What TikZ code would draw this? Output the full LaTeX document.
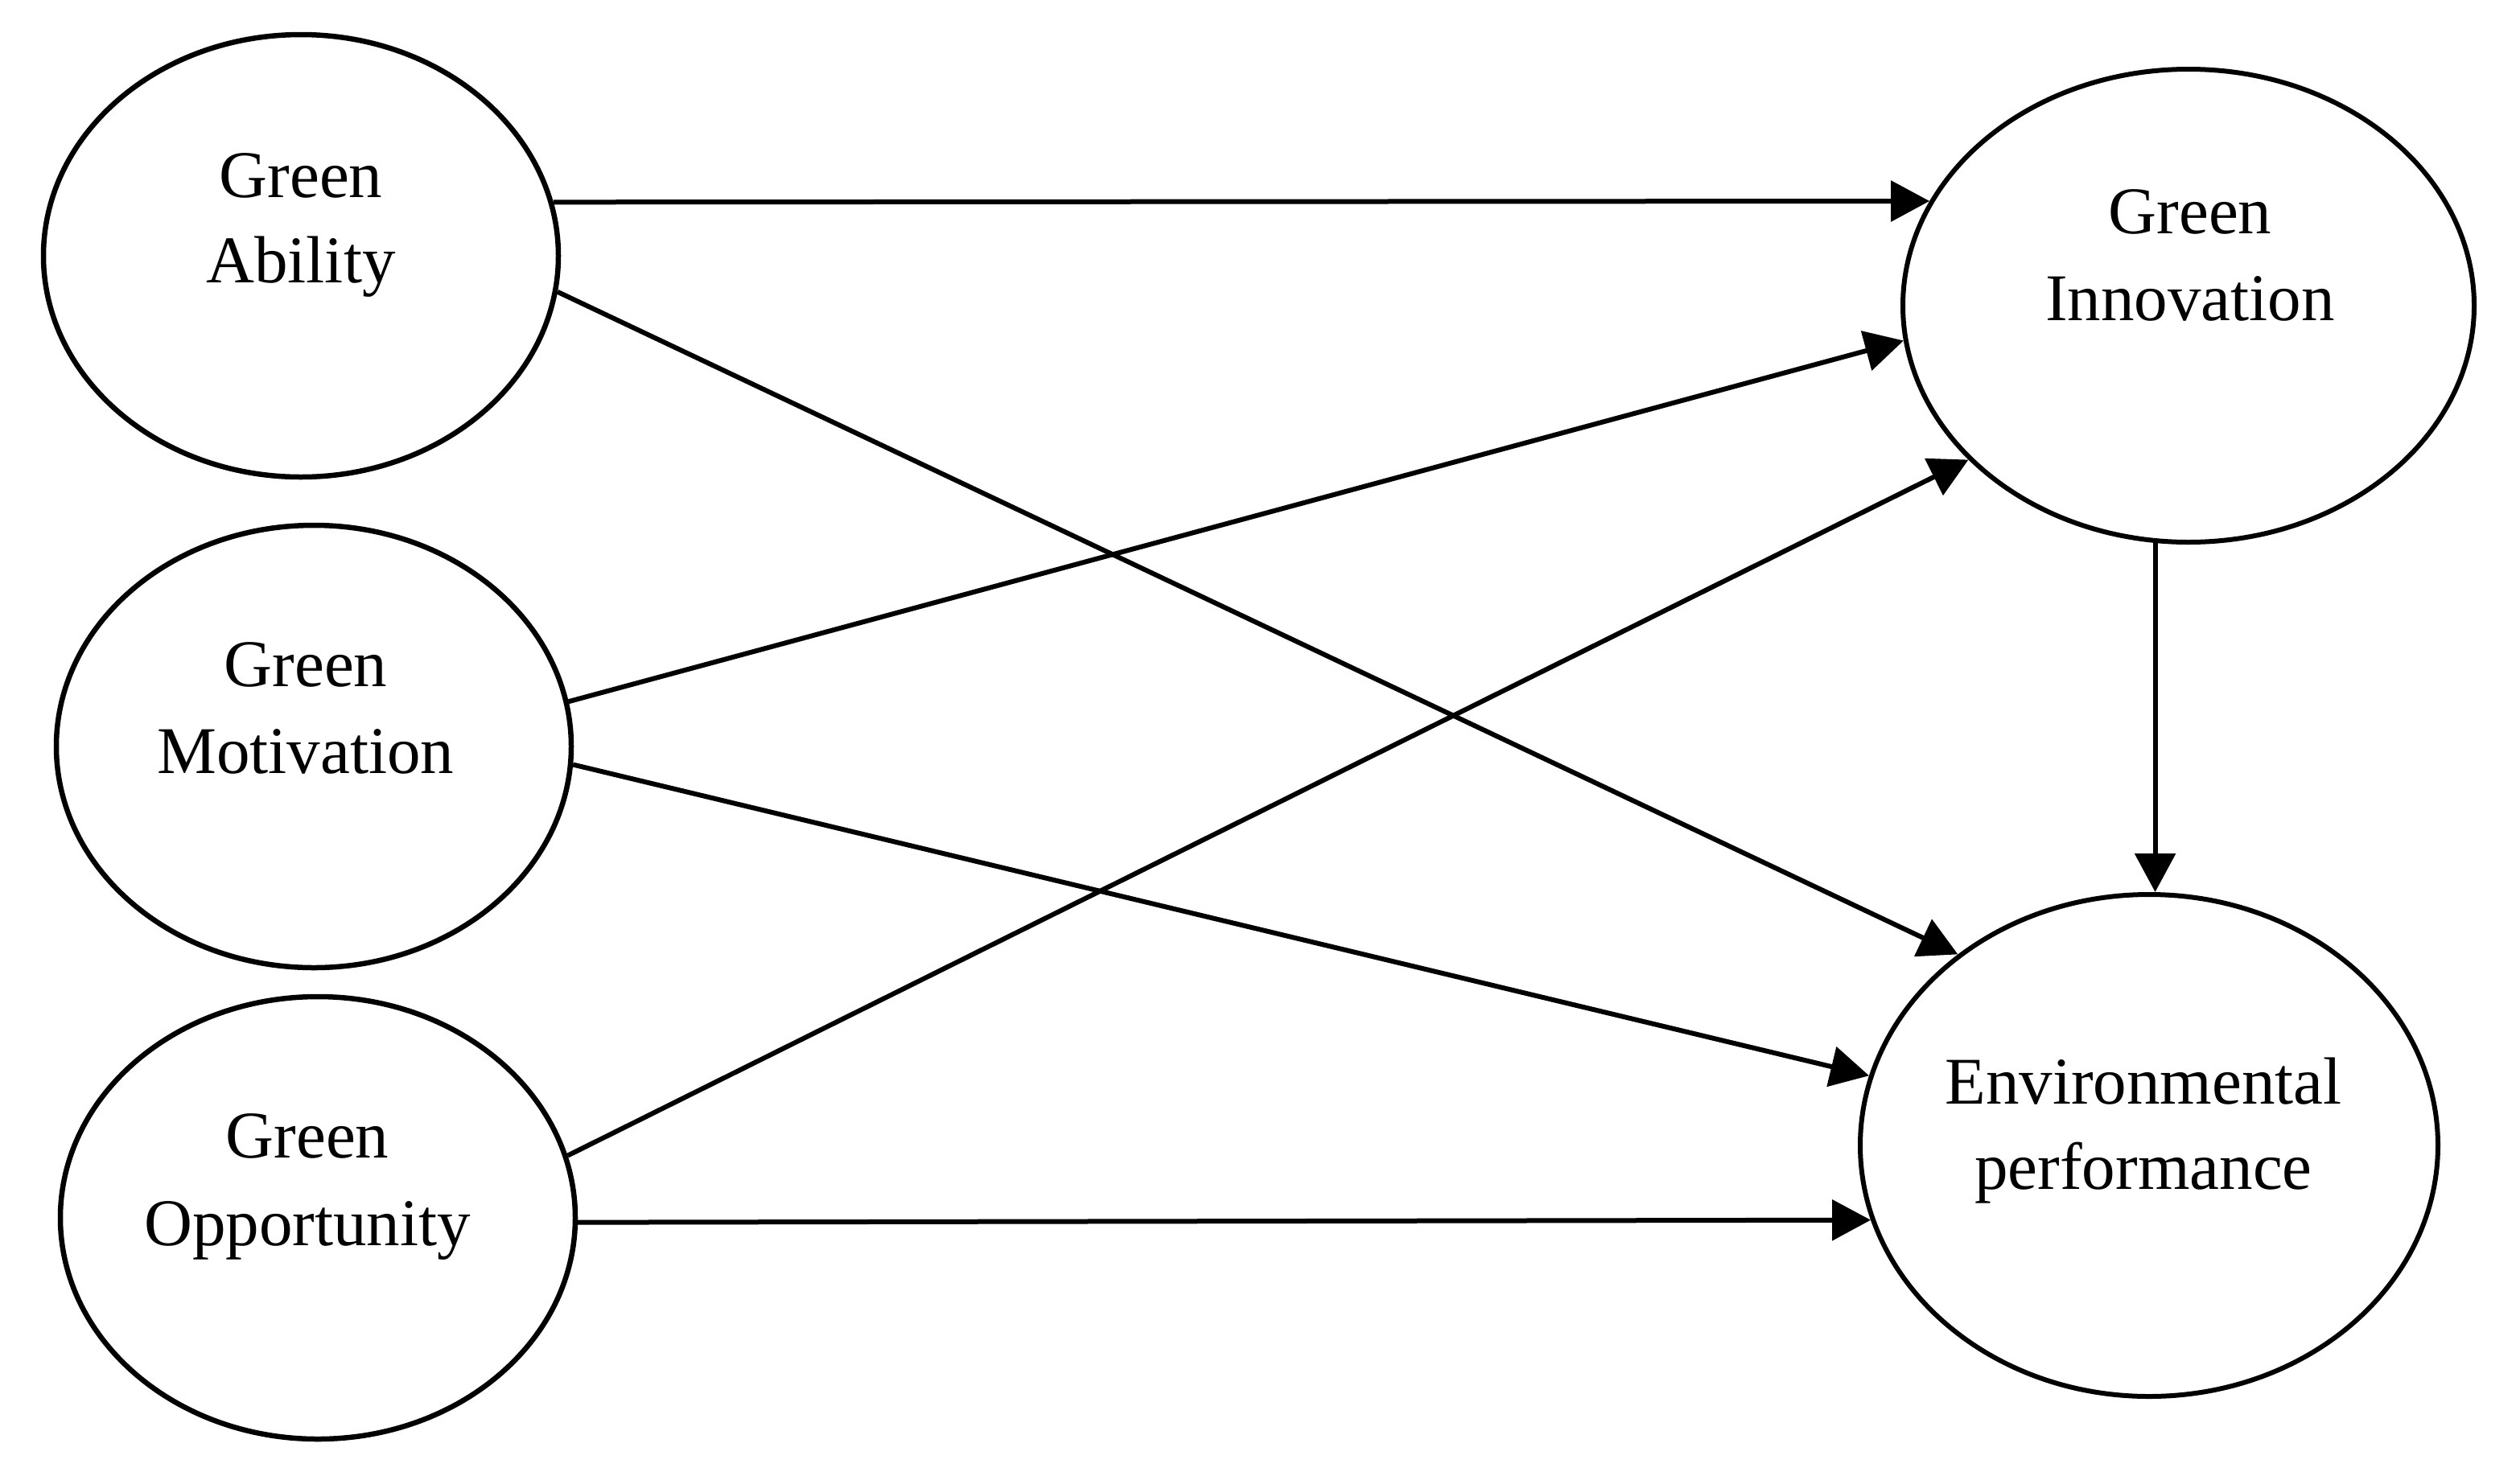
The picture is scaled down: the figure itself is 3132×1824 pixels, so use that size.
\documentclass[tikz,border=0pt]{standalone}
\usepackage{fontspec}
\setmainfont{Liberation Serif}
\usetikzlibrary{shapes.geometric,arrows.meta}
\tikzset{
  ellL/.style={ellipse, draw, line width=6.5pt, minimum width=640pt, minimum height=550pt, inner sep=0pt},
  ellR/.style={ellipse, draw, line width=6pt, inner sep=0pt},
  txt/.style={anchor=base, inner sep=0pt, font=\fontsize{83}{107}\selectfont},
  conn/.style={line width=6pt, -{Triangle[length=48pt,width=50pt]}}
}
\begin{document}
\begin{tikzpicture}[x=1pt,y=-1pt]
\useasboundingbox (0,0) rectangle (3132,1824);
\fill[white] (0,0) rectangle (3132,1824);
% left ellipses
\node[ellL] (ga) at (374,318) {};
\node[ellL] (gm) at (390,928) {};
\node[ellL] (go) at (395,1514) {};
% right ellipses
\node[ellR, minimum width=710pt, minimum height=588pt] (gi) at (2720,380) {};
\node[ellR, minimum width=718pt, minimum height=624pt] (ep) at (2671,1424) {};
% texts
\node[txt] (ga1) at (374,245) {Green};
\node[txt] (ga2) at (374,351) {Ability};
\node[txt] (gm1) at (380,853) {Green};
\node[txt] (gm2) at (380,961) {Motivation};
\node[txt] (go1) at (382,1439) {Green};
\node[txt] (go2) at (382,1548) {Opportunity};
\node[txt] (gi1) at (2722,290) {Green};
\node[txt] (gi2) at (2722,398) {Innovation};
\node[txt] (ep1) at (2664,1372) {Environmental};
\node[txt] (ep2) at (2664,1478) {performance};
% connectors
\draw[conn] (ga.12.4) -- (gi.158);
\draw[conn] (ga.-8.2) -- (ep.135.1);
\draw[conn] (gm.10.9) -- (gi.187.4);
\draw[conn] (gm.-4.1) -- (ep.166.2);
\draw[conn] (go.14.5) -- (gi.215.5);
\draw[conn] (go.-1.4) -- (ep.195.5);
\draw[conn] (gi.262.3) -- (gi.262.3 |- ep.north);
\end{tikzpicture}
\end{document}
